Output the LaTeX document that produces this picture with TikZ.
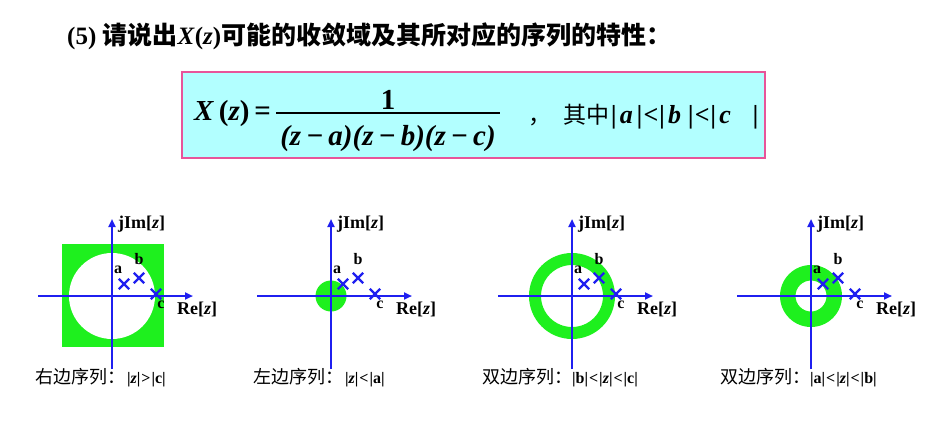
\documentclass[tikz,border=0pt]{standalone}
\usepackage{fontspec}
\setmainfont{Liberation Serif}
\newfontfamily\cjk{Noto Sans CJK SC}
\usetikzlibrary{arrows.meta, shapes.misc}
\definecolor{AxisBlue}{HTML}{1F1FF0}
\definecolor{RocGreen}{HTML}{1EF01E}
\definecolor{BoxCyan}{HTML}{B2FFFF}
\definecolor{BoxPink}{HTML}{E8559A}

\tikzset{
  axis/.style={AxisBlue, line width=2.6pt, -{Triangle[length=8pt,width=7pt]}},
  pole/.style={cross out, draw=AxisBlue, line width=2.4pt, minimum size=8pt, inner sep=0pt},
  polelabel/.style={font=\fontsize{16}{16}\selectfont\bfseries, inner sep=0pt},
  axislabel/.style={font=\fontsize{18}{18}\selectfont\bfseries, inner sep=0pt, anchor=west},
  caption/.style={font=\fontsize{16}{16}\selectfont\bfseries, inner sep=0pt, anchor=west},
  formula/.style={font=\fontsize{29}{29}\selectfont\bfseries, inner sep=0pt},
  roc/.style={fill=RocGreen},
}
\newcommand{\capzh}[1]{{\cjk\mdseries\fontsize{18}{18}\selectfont #1}}

\begin{document}
\begin{tikzpicture}[x=1pt, y=-1pt]
  \useasboundingbox (0,0) rectangle (942,436);

  % Title
  \node[anchor=west, inner sep=0pt, font=\fontsize{25}{25}\selectfont\bfseries] (title) at (67,36)
    {(5) {\cjk 请说出}\textit{X}(\textit{z}){\cjk 可能的收敛域及其所对应的序列的特性：}};

  % Formula box
  \node[draw=BoxPink, fill=BoxCyan, line width=2pt, minimum width=583pt, minimum height=86pt, inner sep=0pt] (box) at (473.5,115) {};
  \node[formula, anchor=base east] (lhs) at (271,120) {\textit{X}\,(\textit{z})\,=};
  \node[formula, anchor=base] (num) at (388,109) {1};
  \node[formula, anchor=base] (den) at (388,145) {\itshape (z\,−\,a)(z\,−\,b)(z\,−\,c)};
  \draw[line width=1.3pt] (276,113) -- (500,113);
  \node[anchor=base west, inner sep=0pt, font=\fontsize{23}{23}\selectfont\cjk] (comma) at (528,123) {，};
  \node[anchor=base west, inner sep=0pt, font=\fontsize{26}{26}\selectfont\bfseries\itshape] (cond) at (563,123)
    {{\cjk\upshape\mdseries\fontsize{23}{23}\selectfont 其中}\kern2pt|\kern3pt a\kern4pt|\kern1pt<\kern1pt|\kern3pt b\kern7pt|\kern1pt<\kern1pt|\kern3pt c\kern22pt|};

  % Regions of convergence
  \fill[roc] (62,244) rectangle (164,347);
  \fill[white] (112,296) circle (43pt);
  \fill[roc] (331,296) circle (15.5pt);
  \fill[roc, even odd rule] (572,296) circle (43pt) (572,296) circle (31pt);
  \fill[roc, even odd rule] (811,296) circle (31pt) (811,296) circle (15.5pt);

  % z-planes
  \foreach \ox/\i in {112/1,331/2,572/3,811/4}{
    \coordinate (xl\i) at (\ox-74,296);
    \coordinate (xr\i) at (\ox+81,296);
    \coordinate (yb\i) at (\ox,369);
    \coordinate (yt\i) at (\ox,219);
    \draw[axis] (xl\i) -- (xr\i);
    \draw[axis] (yb\i) -- (yt\i);
    \node[pole] (a\i) at (\ox+12,284) {};
    \node[pole] (b\i) at (\ox+27,278) {};
    \node[pole] (c\i) at (\ox+44,294) {};
    \node[polelabel] (la\i) at (\ox+6,270) {a};
    \node[polelabel] (lb\i) at (\ox+27,259) {b};
    \node[polelabel] (lc\i) at (\ox+49,305) {c};
    \node[axislabel] (im\i) at (\ox+6,224) {jIm[\textit{z}]};
    \node[axislabel] (re\i) at (\ox+65,309) {Re[\textit{z}]};
  }

  % Captions
  \node[caption] (cap1) at (35,378) {\capzh{右边序列：}\kern2pt|\textit{z}|\kern1pt>\kern1pt|c|};
  \node[caption] (cap2) at (253,378) {\capzh{左边序列：}\kern2pt|\textit{z}|\kern1pt<\kern1pt|a|};
  \node[caption] (cap3) at (482,378) {\capzh{双边序列：}\kern0pt|b|\kern1pt<\kern1pt|\textit{z}|\kern1pt<\kern1pt|c|};
  \node[caption] (cap4) at (720,378) {\capzh{双边序列：}\kern0pt|a|\kern1pt<\kern1pt|\textit{z}|\kern1pt<\kern1pt|b|};
\end{tikzpicture}
\end{document}
